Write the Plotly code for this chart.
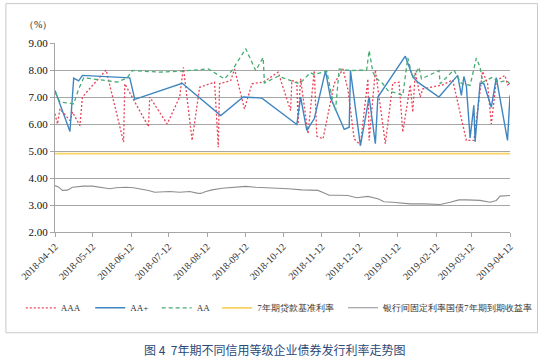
import plotly.graph_objects as go

# ---------------- data ----------------
aaa_dates = ["2018-04-12","2018-04-14","2018-04-16","2018-04-24","2018-04-26","2018-05-02","2018-05-04",
             "2018-05-23","2018-06-06","2018-06-07","2018-06-26","2018-06-27","2018-07-11","2018-07-21",
             "2018-07-24","2018-07-31","2018-08-06","2018-08-18","2018-08-21","2018-08-22","2018-08-31",
             "2018-09-03","2018-09-11","2018-09-17","2018-09-26","2018-10-08","2018-10-18","2018-10-19",
             "2018-10-23","2018-10-24","2018-10-26","2018-11-01","2018-11-06","2018-11-08","2018-11-13",
             "2018-11-22","2018-11-29","2018-12-03","2018-12-08","2018-12-13","2018-12-19","2018-12-20",
             "2018-12-25","2019-01-02","2019-01-08","2019-01-13","2019-01-16","2019-01-22","2019-01-24",
             "2019-01-26","2019-01-30","2019-02-01","2019-02-17","2019-02-25","2019-03-08","2019-03-14",
             "2019-03-21","2019-03-25","2019-03-28","2019-04-01","2019-04-08","2019-04-10","2019-04-12"]
aaa_vals = [6.38,6.00,6.56,6.13,6.44,5.94,7.00,
            8.00,5.33,7.49,5.90,7.00,6.00,7.00,
            8.10,5.39,7.36,7.55,5.14,7.49,7.61,
            8.04,6.56,7.49,7.55,7.92,6.50,7.61,
            7.55,6.00,7.67,5.64,7.98,5.55,5.45,
            7.50,8.04,7.27,5.45,5.22,7.67,5.39,
            8.00,5.27,7.52,7.55,5.70,7.45,6.44,
            7.92,7.00,7.30,7.45,7.63,5.39,5.39,
            7.95,7.50,6.00,7.60,7.80,7.45,7.49]

aap_dates = ["2018-04-12","2018-04-24","2018-04-27","2018-05-01","2018-05-04","2018-06-11","2018-06-15",
             "2018-07-23","2018-08-23","2018-09-10","2018-09-25","2018-10-23","2018-10-26","2018-10-31",
             "2018-11-06","2018-11-15","2018-11-19","2018-11-30","2018-12-04","2018-12-05","2018-12-13",
             "2018-12-20","2018-12-25","2018-12-27","2019-01-18","2019-01-24","2019-01-28","2019-02-14",
             "2019-03-01","2019-03-04","2019-03-06","2019-03-08","2019-03-11","2019-03-14","2019-03-15",
             "2019-03-19","2019-03-22","2019-03-28","2019-04-01","2019-04-10","2019-04-12"]
aap_vals = [7.24,5.72,7.70,7.60,7.80,7.71,6.91,
            7.51,6.31,7.00,6.96,5.98,7.00,5.76,
            6.20,7.97,6.97,5.80,5.88,7.98,5.20,
            7.00,5.27,7.00,8.51,7.75,7.55,7.00,
            7.80,7.06,7.76,7.40,5.48,6.69,5.34,
            7.52,7.50,6.62,7.72,5.39,7.06]

aa_dates = ["2018-04-12","2018-04-16","2018-04-23","2018-04-27","2018-05-01","2018-05-05","2018-05-23",
            "2018-06-01","2018-06-09","2018-06-13","2018-07-05","2018-07-23","2018-08-13","2018-08-21",
            "2018-08-26","2018-09-01","2018-09-12","2018-09-20","2018-09-26","2018-09-27","2018-10-08",
            "2018-10-16","2018-10-25","2018-11-03","2018-11-06","2018-11-16","2018-11-21","2018-11-23",
            "2018-11-26","2018-12-05","2018-12-18","2018-12-20","2018-12-23","2018-12-25","2018-12-31",
            "2019-01-04","2019-01-16","2019-01-20","2019-01-24","2019-01-29","2019-01-31","2019-02-14",
            "2019-02-15","2019-02-26","2019-03-04","2019-03-11","2019-03-16","2019-03-19","2019-03-21",
            "2019-03-29","2019-04-03","2019-04-09","2019-04-12"]
aa_vals = [7.18,6.81,6.77,6.75,7.30,7.71,7.61,
           7.55,7.71,7.98,7.92,7.96,8.04,7.80,
           7.67,7.98,8.79,7.98,8.46,7.52,7.77,
           7.64,7.49,7.90,7.83,7.96,6.81,6.50,
           8.04,7.98,8.00,8.72,7.92,7.73,7.49,
           7.24,7.06,8.45,7.70,8.10,7.67,7.98,
           7.49,8.00,7.50,7.43,8.44,8.10,7.55,
           7.73,7.55,7.61,7.49]

loan_dates = ["2018-04-12","2019-04-12"]
loan_vals = [4.90,4.90]

cgb_dates = ["2018-04-12","2018-04-15","2018-04-18","2018-04-22","2018-04-26","2018-04-30","2018-05-05",
             "2018-05-12","2018-05-18","2018-05-22","2018-05-26","2018-05-31","2018-06-08","2018-06-14",
             "2018-06-19","2018-06-26","2018-07-01","2018-07-09","2018-07-13","2018-07-21","2018-07-29",
             "2018-08-04","2018-08-07","2018-08-11","2018-08-16","2018-08-24","2018-09-01","2018-09-12",
             "2018-09-20","2018-09-28","2018-10-08","2018-10-16","2018-10-27","2018-11-09","2018-11-13",
             "2018-11-18","2018-11-25","2018-12-03","2018-12-10","2018-12-14","2018-12-19","2018-12-27",
             "2019-01-01","2019-01-08","2019-01-14","2019-01-22","2019-02-02","2019-02-09","2019-02-15",
             "2019-02-23","2019-03-02","2019-03-08","2019-03-19","2019-03-27","2019-04-01","2019-04-04",
             "2019-04-09","2019-04-12"]
cgb_vals = [3.72,3.66,3.54,3.55,3.66,3.68,3.70,
            3.70,3.66,3.63,3.60,3.64,3.66,3.64,
            3.60,3.54,3.47,3.50,3.50,3.47,3.50,
            3.44,3.43,3.50,3.56,3.62,3.64,3.69,
            3.66,3.64,3.64,3.60,3.56,3.54,3.46,
            3.36,3.36,3.35,3.27,3.30,3.32,3.23,
            3.12,3.10,3.07,3.04,3.04,3.03,3.02,
            3.10,3.19,3.19,3.17,3.10,3.17,3.33,
            3.33,3.35]

tick_dates = ["2018-04-12","2018-05-12","2018-06-12","2018-07-12","2018-08-12","2018-09-12",
              "2018-10-12","2018-11-12","2018-12-12","2019-01-12","2019-02-12","2019-03-12","2019-04-12"]

names = ["AAA", "AA+", "AA", "7年期贷款基准利率", "银行间固定利率国债7年期到期收益率"]

# ---------------- figure ----------------
W, H = 550, 361
L, R, T, B = 54.5, 36.7, 42.5, 129
pw, ph = W - L - R, H - T - B

def px2paper(x, y):
    return (x - L) / pw, (H - B - y) / ph

SERIF = "Liberation Serif"

fig = go.Figure()
fig.add_trace(go.Scatter(x=aaa_dates, y=aaa_vals, mode="lines", name=names[0],
                         line=dict(color="#E8445A", width=1.3, dash="2px,2px"), legend="legend"))
fig.add_trace(go.Scatter(x=aap_dates, y=aap_vals, mode="lines", name=names[1],
                         line=dict(color="#3F86C1", width=1.4), legend="legend2"))
fig.add_trace(go.Scatter(x=aa_dates, y=aa_vals, mode="lines", name=names[2],
                         line=dict(color="#45AC72", width=1.3, dash="4px,3px"), legend="legend3"))
fig.add_trace(go.Scatter(x=loan_dates, y=loan_vals, mode="lines", name=names[3],
                         line=dict(color="#F9D262", width=1.8), legend="legend4"))
fig.add_trace(go.Scatter(x=cgb_dates, y=cgb_vals, mode="lines", name=names[4],
                         line=dict(color="#8E8E8E", width=1.1), legend="legend5"))

leg_starts = [25, 95, 162, 223, 350]
leg_common = dict(orientation="h", yanchor="middle", xanchor="left",
                  font=dict(family=SERIF, size=9, color="#333333"),
                  bgcolor="rgba(0,0,0,0)", borderwidth=0)
legs = {}
for i, xs in enumerate(leg_starts):
    lx, ly = px2paper(xs - 5, 308)
    key = "legend" if i == 0 else f"legend{i+1}"
    legs[key] = dict(leg_common, x=lx, y=ly)

bx0, by0 = px2paper(5, 333)
bx1, by1 = px2paper(541, 3)
ux, uy = px2paper(37, 24)
tx, ty = px2paper(276, 350)

fig.update_layout(
    width=W, height=H,
    margin=dict(l=L, r=R, t=T, b=B),
    paper_bgcolor="white", plot_bgcolor="white",
    showlegend=True,
    **legs,
    xaxis=dict(type="date", range=["2018-04-12", "2019-04-12"],
               tickvals=tick_dates, ticktext=tick_dates, tickangle=-45,
               tickfont=dict(family=SERIF, size=10, color="#333333"),
               showgrid=False, zeroline=False,
               showline=True, linecolor="#A6A6A6", linewidth=1,
               ticks="outside", ticklen=4, tickcolor="#A6A6A6"),
    yaxis=dict(range=[2, 9], dtick=1, tick0=2, tickformat=".2f",
               tickfont=dict(family=SERIF, size=11, color="#111111"),
               showgrid=True, gridcolor="#A6A6A6", gridwidth=1, zeroline=False,
               showline=True, linecolor="#A6A6A6", linewidth=1,
               ticks="outside", ticklen=4, tickcolor="#A6A6A6"),
    shapes=[dict(type="rect", xref="paper", yref="paper", x0=bx0, y0=by0, x1=bx1, y1=by1,
                 line=dict(color="#C8C8C8", width=1), fillcolor="rgba(0,0,0,0)", layer="below")],
    annotations=[
        dict(text="（%）", xref="paper", yref="paper", x=ux, y=uy, showarrow=False,
             font=dict(family=SERIF, size=10, color="#222222"), xanchor="center", yanchor="middle"),
        dict(text="图 4  7年期不同信用等级企业债券发行利率走势图", xref="paper", yref="paper",
             x=tx, y=ty, showarrow=False, xanchor="center", yanchor="middle",
             font=dict(family="Noto Sans CJK SC", size=12, color="#2B4A78")),
    ],
)

fig.write_html("out.html", config={"displayModeBar": False},
               post_script="document.body.style.margin='0';document.body.style.overflow='hidden';")
